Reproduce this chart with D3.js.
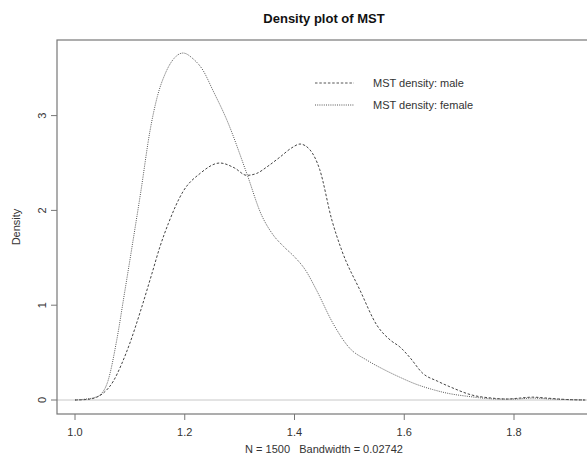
<!DOCTYPE html>
<meta charset="utf-8">
<script src="https://d3js.org/d3.v7.min.js"></script>
<style>
  body { margin: 0; background: #fff; }
  text { font-family: "Liberation Sans", Arial, sans-serif; fill: #333; white-space: pre; }
</style>
<svg id="chart" width="587" height="464"></svg>
<script>
// density estimates
var maleX = [1.0, 1.02, 1.035, 1.051, 1.07, 1.085, 1.1, 1.12, 1.14, 1.155, 1.17, 1.197, 1.228, 1.264, 1.29, 1.313, 1.331, 1.35, 1.373, 1.395, 1.41, 1.428, 1.446, 1.468, 1.486, 1.52, 1.55, 1.575, 1.592, 1.61, 1.634, 1.66, 1.683, 1.725, 1.76, 1.787, 1.81, 1.834, 1.86, 1.896, 1.93];
var maleY = [0, 0.005, 0.02, 0.07, 0.2, 0.38, 0.6, 0.95, 1.33, 1.62, 1.86, 2.2, 2.39, 2.5, 2.45, 2.37, 2.39, 2.46, 2.56, 2.66, 2.7, 2.64, 2.43, 1.9, 1.58, 1.15, 0.79, 0.63, 0.56, 0.45, 0.28, 0.2, 0.14, 0.05, 0.02, 0.01, 0.02, 0.03, 0.02, 0.005, 0];
var femaleX = [1.0, 1.02, 1.035, 1.045, 1.06, 1.076, 1.09, 1.106, 1.12, 1.137, 1.15, 1.165, 1.18, 1.197, 1.215, 1.233, 1.251, 1.277, 1.313, 1.34, 1.36, 1.38, 1.4, 1.42, 1.44, 1.47, 1.5, 1.532, 1.56, 1.592, 1.62, 1.652, 1.68, 1.714, 1.774, 1.8, 1.834, 1.87, 1.93];
var femaleY = [0, 0.01, 0.025, 0.05, 0.2, 0.63, 1.12, 1.69, 2.2, 2.85, 3.2, 3.45, 3.6, 3.66, 3.6, 3.48, 3.27, 2.95, 2.39, 1.95, 1.75, 1.62, 1.51, 1.37, 1.16, 0.81, 0.55, 0.42, 0.33, 0.24, 0.17, 0.11, 0.07, 0.04, 0.01, 0.01, 0.02, 0.01, 0];
var xTicks = [1.0, 1.2, 1.4, 1.6, 1.8];
var yTicks = [0, 1, 2, 3];
var legendLabels = ["MST density: male", "MST density: female"];

var svg = d3.select("#chart");
var pLeft = 57, pRight = 591, pTop = 40, pBottom = 414;

var x = d3.scaleLinear().domain([1.0, 1.8]).range([75, 514]);
var y = d3.scaleLinear().domain([0, 3]).range([400, 115.6]);

svg.append("clipPath").attr("id", "plotclip")
  .append("rect").attr("x", pLeft).attr("y", pTop).attr("width", pRight - pLeft).attr("height", pBottom - pTop);

// zero line
svg.append("line")
  .attr("x1", pLeft).attr("x2", pRight)
  .attr("y1", y(0)).attr("y2", y(0))
  .attr("stroke", "#c8c8c8").attr("stroke-width", 1);

var line = d3.line()
  .x(function(d) { return x(d[0]); })
  .y(function(d) { return y(d[1]); })
  .curve(d3.curveMonotoneX);

var male = maleX.map(function(v, i) { return [v, maleY[i]]; });
var female = femaleX.map(function(v, i) { return [v, femaleY[i]]; });

var g = svg.append("g").attr("clip-path", "url(#plotclip)");
g.append("path").attr("d", line(male))
  .attr("fill", "none").attr("stroke", "#444").attr("stroke-width", 1)
  .attr("stroke-dasharray", "2.5,1.8");
g.append("path").attr("d", line(female))
  .attr("fill", "none").attr("stroke", "#555").attr("stroke-width", 1)
  .attr("stroke-dasharray", "1,1.2");

// frame
svg.append("rect")
  .attr("x", pLeft).attr("y", pTop).attr("width", pRight - pLeft).attr("height", pBottom - pTop)
  .attr("fill", "none").attr("stroke", "#777").attr("stroke-width", 1.2);

// x axis
var xAxis = svg.append("g");
xAxis.selectAll("line").data(xTicks).enter().append("line")
  .attr("x1", function(d) { return x(d); }).attr("x2", function(d) { return x(d); })
  .attr("y1", pBottom).attr("y2", pBottom + 6)
  .attr("stroke", "#777");
xAxis.selectAll("text").data(xTicks).enter().append("text")
  .attr("x", function(d) { return x(d); })
  .attr("y", 436)
  .attr("text-anchor", "middle")
  .style("font-size", "11px")
  .text(function(d) { return d3.format(".1f")(d); });

// y axis
var yAxis = svg.append("g");
yAxis.selectAll("line").data(yTicks).enter().append("line")
  .attr("x1", pLeft - 6).attr("x2", pLeft)
  .attr("y1", function(d) { return y(d); }).attr("y2", function(d) { return y(d); })
  .attr("stroke", "#777");
yAxis.selectAll("text").data(yTicks).enter().append("text")
  .attr("transform", function(d) { return "translate(42," + y(d) + ") rotate(-90)"; })
  .attr("text-anchor", "middle")
  .attr("dy", "0.35em")
  .style("font-size", "11px")
  .text(function(d) { return d; });

// titles
svg.append("text")
  .attr("x", (pLeft + pRight) / 2).attr("y", 23)
  .attr("text-anchor", "middle")
  .style("font-size", "13px").style("font-weight", "bold").style("fill", "#111")
  .text("Density plot of MST");
svg.append("text")
  .attr("x", (pLeft + pRight) / 2).attr("y", 453)
  .attr("text-anchor", "middle")
  .style("font-size", "11px")
  .text("N = 1500   Bandwidth = 0.02742");
svg.append("text")
  .attr("transform", "translate(16," + (pTop + pBottom) / 2 + ") rotate(-90)")
  .attr("text-anchor", "middle")
  .attr("dy", "0.35em")
  .style("font-size", "11px")
  .text("Density");

// legend
var legend = svg.append("g");
var dashes = ["2.5,1.8", "1,1.2"];
legendLabels.forEach(function(lab, i) {
  var ly = 83 + i * 22;
  legend.append("line")
    .attr("x1", 315).attr("x2", 354).attr("y1", ly).attr("y2", ly)
    .attr("stroke", "#555").attr("stroke-dasharray", dashes[i]);
  legend.append("text")
    .attr("x", 373).attr("y", ly).attr("dy", "0.35em")
    .style("font-size", "11px")
    .text(lab);
});
</script>
